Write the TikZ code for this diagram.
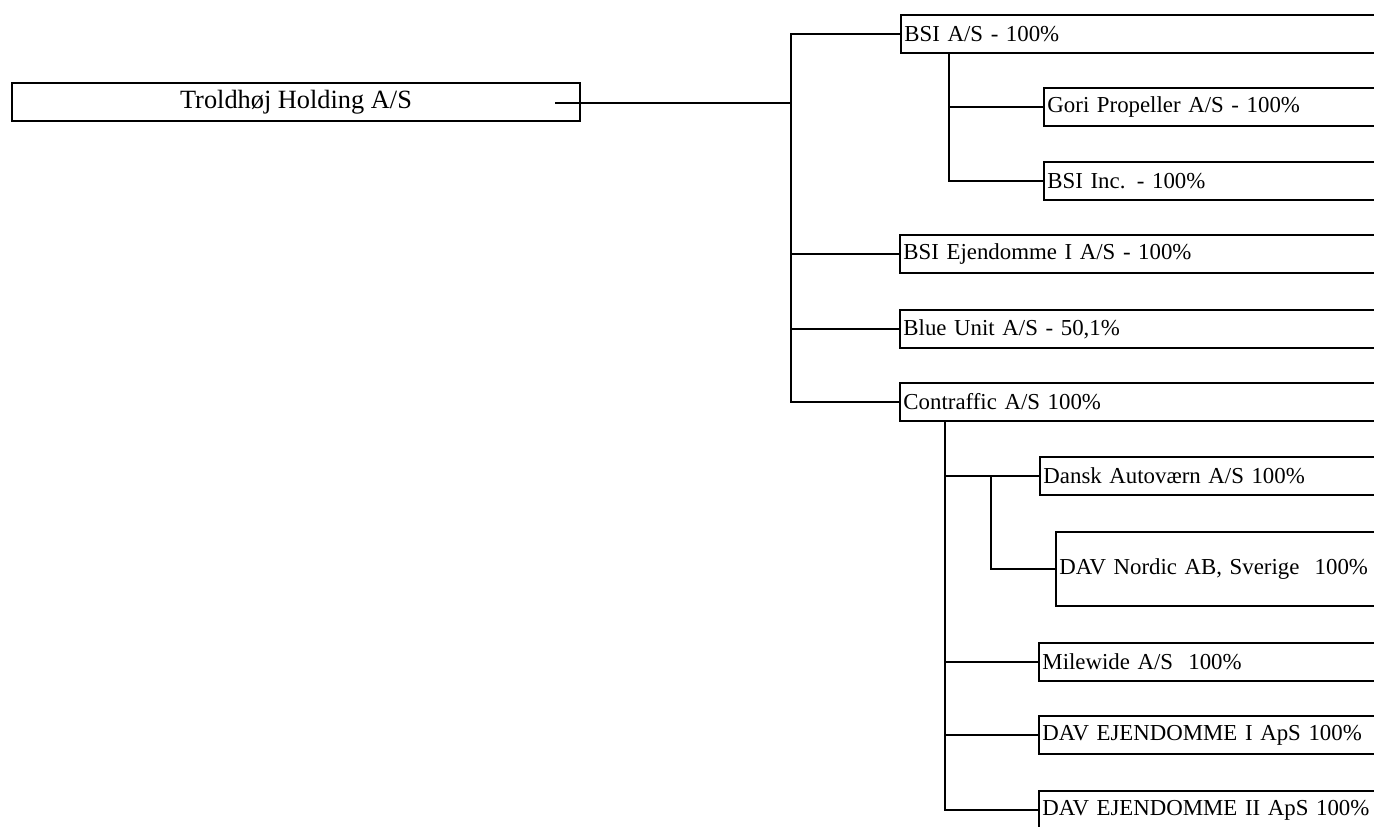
\documentclass[tikz,border=0pt]{standalone}
\usepackage{fontspec}
\setmainfont{Liberation Serif}
\tikzset{
  every picture/.style={line width=0.7pt},
  firm/.style={draw, line width=1.1pt, anchor=west, text width=#1, align=left,
    minimum height=0.76cm, inner xsep=2pt, font=\fontsize{13}{15}\selectfont},
  firm/.default=9.4cm,
  top/.style={draw, line width=1.1pt, minimum width=11.36cm, minimum height=0.76cm,
    font=\fontsize{15}{18}\selectfont},
  link/.style={draw, line width=0.7pt},
}

\begin{document}
\begin{tikzpicture}[x=0.02cm, y=-0.02cm]
  \useasboundingbox (0,0) rectangle (1374,827);
  \clip (0,0) rectangle (1374,827);

  \node[top] (root) at (296,102) {Troldhøj Holding A/S};

  \node[firm] (bsi)    at (900,34)  {BSI A/S - 100\%};
  \node[firm=6.6cm] (gori)   at (1043,107) {Gori Propeller A/S - 100\%};
  \node[firm=6.6cm] (bsiinc) at (1043,181) {BSI Inc. - 100\%};
  \node[firm] (ejd)    at (899,254) {BSI Ejendomme I A/S - 100\%};
  \node[firm] (blue)   at (899,329) {Blue Unit A/S - 50,1\%};
  \node[firm] (contra) at (899,402) {Contraffic A/S 100\%};
  \node[firm=6.7cm] (dansk)  at (1039,476) {Dansk Autoværn A/S 100\%};
  \node[firm=6.3cm, minimum height=1.48cm] (nordic) at (1055,569) {DAV Nordic AB, Sverige~ 100\%};
  \node[firm=6.7cm] (mile)   at (1038,662) {Milewide A/S~ 100\%};
  \node[firm=6.7cm] (davI)   at (1038,735) {DAV EJENDOMME I ApS 100\%};
  \node[firm=6.7cm] (davII)  at (1038,810) {DAV EJENDOMME II ApS 100\%};

  % connectors
  \coordinate (rootstub) at (555,103);
  \coordinate (main) at (791,103);
  \coordinate (bsitap) at (949,53);
  \coordinate (contap) at (945,421);
  \coordinate (dansktap) at (991,476);

  \draw[link] (rootstub) -- (main);
  \foreach \n in {bsi,ejd,blue,contra}
    \draw[link] (main) |- (\n.west);
  \foreach \n in {gori,bsiinc}
    \draw[link] (bsitap) |- (\n.west);
  \foreach \n in {dansk,mile,davI,davII}
    \draw[link] (contap) |- (\n.west);
  \draw[link] (dansktap) |- (nordic.west);
\end{tikzpicture}
\end{document}
